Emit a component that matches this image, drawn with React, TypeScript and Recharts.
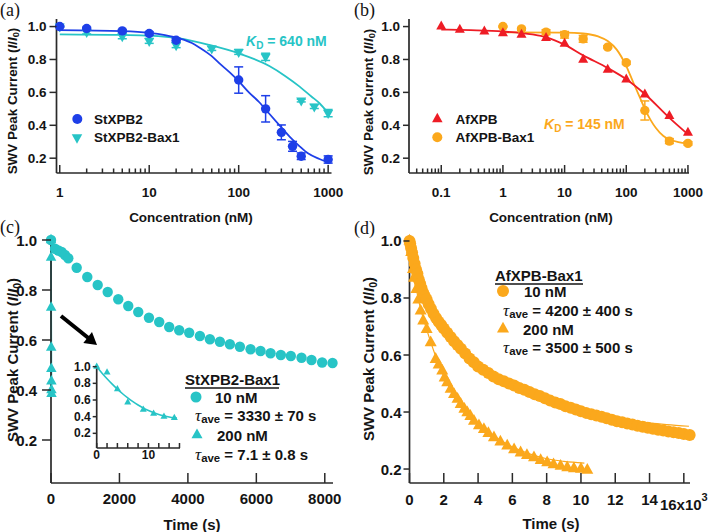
import React from 'react';
import { ComposedChart, Scatter, Line, XAxis, YAxis, ErrorBar } from 'recharts';

const SANS = '"Liberation Sans", Arial, Helvetica, sans-serif';
const SERIF = '"Liberation Serif", "Times New Roman", serif';
const BLUE = '#1e3fe8';
const CYAN = '#27c4c6';
const RED = '#ee1c25';
const ORANGE = '#fba81c';
const INK = '#141414';
const AX = '#2a2a2a';

// ---------------- (a) ----------------
const concA_St = [1, 2, 5, 10, 20, 100, 200, 300, 400, 500, 1000];
const valA_St = [1.0, 0.988, 0.974, 0.958, 0.917, 0.675, 0.5, 0.357, 0.272, 0.212, 0.192];
const errA_St = [0.004, 0.008, 0.008, 0.01, 0.012, 0.08, 0.08, 0.045, 0.03, 0.02, 0.022];
const concA_Bax = [1, 2, 5, 10, 20, 50, 100, 200, 500, 700, 1000];
const valA_Bax = [1.0, 0.967, 0.941, 0.913, 0.887, 0.867, 0.846, 0.816, 0.55, 0.514, 0.474];
const errA_Bax = [0.004, 0.012, 0.015, 0.015, 0.015, 0.012, 0.015, 0.022, 0.008, 0.012, 0.022];
const fitConcA_St = [1, 5, 10, 15, 22, 30, 37, 50, 61, 80, 100, 130, 170, 220, 286, 380, 480, 600, 800, 1000];
const fitValA_St = [0.978, 0.972, 0.962, 0.948, 0.927, 0.9, 0.87, 0.82, 0.776, 0.72, 0.668, 0.6, 0.54, 0.47, 0.4, 0.325, 0.272, 0.228, 0.195, 0.175];
const fitConcA_Bax = [1, 5, 10, 22, 47, 100, 220, 330, 480, 650, 800, 1000];
const fitValA_Bax = [0.953, 0.949, 0.945, 0.928, 0.888, 0.837, 0.76, 0.7, 0.635, 0.575, 0.534, 0.474];

// ---------------- (b) ----------------
const concB_Af = [0.1, 0.2, 0.5, 1, 2, 5, 10, 20, 50, 100, 200, 500, 1000];
const valB_Af = [1.0, 0.98, 0.97, 0.96, 0.95, 0.93, 0.895, 0.798, 0.738, 0.678, 0.587, 0.456, 0.355];
const concB_Bax = [1, 2, 5, 10, 20, 50, 100, 200, 500, 1000];
const valB_Bax = [1.0, 0.986, 0.966, 0.95, 0.925, 0.875, 0.78, 0.49, 0.304, 0.29];
const errB_Bax = [0.004, 0.008, 0.015, 0.02, 0.02, 0.008, 0.01, 0.058, 0.015, 0.01];
const fitConcB_Af = [0.1, 0.3, 1, 3, 5, 10, 20, 50, 100, 200, 500, 1000];
const fitValB_Af = [0.982, 0.978, 0.97, 0.952, 0.935, 0.89, 0.825, 0.748, 0.68, 0.59, 0.445, 0.345];
const fitConcB_Bax = [1, 10, 20, 35, 50, 70, 100, 130, 170, 200, 250, 300, 400, 500, 700, 1000];
const fitValB_Bax = [0.965, 0.963, 0.958, 0.94, 0.912, 0.86, 0.76, 0.66, 0.56, 0.5, 0.43, 0.385, 0.335, 0.315, 0.298, 0.29];

// ---------------- (c) ----------------
const timeC_10 = [0, 117, 213, 312, 409, 505, 750, 1060, 1364, 1656, 1965, 2257, 2549, 2862, 3162, 3454, 3746, 4038, 4351, 4643, 4935, 5227, 5519, 5831, 6123, 6415, 6716, 7008, 7320, 7612, 7922, 8226];
const valC_10 = [1.0, 0.965, 0.958, 0.952, 0.94, 0.927, 0.889, 0.852, 0.82, 0.792, 0.763, 0.736, 0.712, 0.689, 0.672, 0.652, 0.639, 0.629, 0.616, 0.603, 0.593, 0.583, 0.573, 0.563, 0.556, 0.547, 0.54, 0.536, 0.529, 0.52, 0.51, 0.508];
const timeC_200 = [0, 2, 4, 6, 9, 11, 13, 15];
const valC_200 = [1.0, 0.93, 0.73, 0.57, 0.485, 0.435, 0.4, 0.385];
const fitTimeC_200 = [0, 1, 2, 3, 4, 5, 6, 7, 8, 9, 10, 11, 12, 13, 14, 15, 15.5];
const fitValC_200 = [1.0, 0.925, 0.855, 0.79, 0.73, 0.675, 0.625, 0.58, 0.54, 0.505, 0.475, 0.448, 0.427, 0.41, 0.396, 0.386, 0.382];

// ---------------- (d) ----------------
const timeD_10 = [0, 40, 90, 150, 220, 300, 380, 460, 540, 620, 700, 800, 900, 1000, 1120, 1250, 1400, 1550, 1700, 1850, 2000, 2200, 2400, 2600, 2800, 3000, 3250, 3500, 3750, 4000, 4300, 4600, 4900, 5200, 5500, 5800, 6100, 6400, 6700, 7000, 7300, 7600, 7900, 8200, 8500, 8800, 9100, 9400, 9700, 10000, 10300, 10600, 10900, 11200, 11500, 11800, 12100, 12400, 12700, 13000, 13300, 13600, 13900, 14200, 14500, 14800, 15100, 15400, 15700, 16000, 16340];
const valD_10 = [1.0, 0.99, 0.975, 0.96, 0.94, 0.92, 0.9, 0.885, 0.865, 0.85, 0.835, 0.818, 0.805, 0.795, 0.778, 0.762, 0.745, 0.73, 0.717, 0.705, 0.693, 0.678, 0.663, 0.648, 0.635, 0.622, 0.605, 0.588, 0.575, 0.56, 0.548, 0.537, 0.525, 0.515, 0.508, 0.5, 0.493, 0.484, 0.478, 0.47, 0.462, 0.456, 0.448, 0.44, 0.433, 0.428, 0.42, 0.415, 0.409, 0.403, 0.397, 0.392, 0.388, 0.383, 0.378, 0.373, 0.368, 0.364, 0.36, 0.356, 0.352, 0.348, 0.345, 0.341, 0.338, 0.335, 0.332, 0.329, 0.326, 0.323, 0.319];
const timeD_200 = [0, 100, 200, 262, 400, 515, 650, 800, 1000, 1235, 1525, 1700, 1910, 2050, 2200, 2400, 2595, 2800, 2985, 3200, 3370, 3550, 3760, 4050, 4340, 4600, 4925, 5300, 5700, 6100, 6480, 6850, 7260, 7650, 8030, 8400, 8810, 9200, 9590, 10000, 10370];
const valD_200 = [1.0, 0.96, 0.9, 0.87, 0.83, 0.793, 0.755, 0.72, 0.69, 0.643, 0.585, 0.565, 0.544, 0.52, 0.503, 0.48, 0.462, 0.445, 0.427, 0.41, 0.398, 0.385, 0.368, 0.352, 0.339, 0.325, 0.31, 0.295, 0.281, 0.268, 0.257, 0.248, 0.24, 0.23, 0.222, 0.215, 0.21, 0.205, 0.201, 0.2, 0.196];
const fitTimeD_10 = [0, 300, 600, 1000, 1500, 2000, 3000, 4000, 5000, 6000, 7000, 8000, 9000, 10000, 11000, 12000, 13000, 14000, 15000, 16300];
const fitValD_10 = [1.0, 0.915, 0.85, 0.79, 0.735, 0.69, 0.615, 0.562, 0.524, 0.496, 0.474, 0.455, 0.437, 0.405, 0.392, 0.38, 0.37, 0.362, 0.356, 0.35];
const fitTimeD_200 = [0, 250, 500, 750, 1000, 1500, 2000, 2500, 3000, 3500, 4000, 5000, 6000, 7000, 8000, 9000, 10200];
const fitValD_200 = [1.0, 0.89, 0.8, 0.74, 0.69, 0.6, 0.525, 0.468, 0.424, 0.39, 0.36, 0.312, 0.278, 0.253, 0.236, 0.227, 0.221];

// ---------------- ticks ----------------
const yTicks = [0.2, 0.4, 0.6, 0.8, 1.0];
const logTicksA = [1, 2, 3, 4, 5, 6, 7, 8, 9, 10, 20, 30, 40, 50, 60, 70, 80, 90, 100, 200, 300, 400, 500, 600, 700, 800, 900, 1000];
const logMajorsA = [1, 10, 100, 1000];
const logTicksB = [0.04, 0.05, 0.06, 0.07, 0.08, 0.09, 0.1, 0.2, 0.3, 0.4, 0.5, 0.6, 0.7, 0.8, 0.9, 1, 2, 3, 4, 5, 6, 7, 8, 9, 10, 20, 30, 40, 50, 60, 70, 80, 90, 100, 200, 300, 400, 500, 600, 700, 800, 900, 1000];
const logMajorsB = [0.1, 1, 10, 100, 1000];
const timeTicksC = [0, 2000, 4000, 6000, 8000];
const timeTicksD = [0, 2000, 4000, 6000, 8000, 10000, 12000, 14000, 16000];
const insetTicksX = [0, 2, 4, 6, 8, 10, 12, 14, 16];
const insetMajorsX = [0, 10];

const zip = (xs: number[], ys: number[], es?: number[]) => xs.map((x, i) => ({ x, y: ys[i], e: es ? es[i] : 0 }));

const dA_St = zip(concA_St, valA_St, errA_St);
const dA_Bax = zip(concA_Bax, valA_Bax, errA_Bax);
const fA_St = zip(fitConcA_St, fitValA_St);
const fA_Bax = zip(fitConcA_Bax, fitValA_Bax);
const dB_Af = zip(concB_Af, valB_Af);
const dB_Bax = zip(concB_Bax, valB_Bax, errB_Bax);
const fB_Af = zip(fitConcB_Af, fitValB_Af);
const fB_Bax = zip(fitConcB_Bax, fitValB_Bax);
const dC_10 = zip(timeC_10, valC_10);
const dC_200 = zip(timeC_200, valC_200);
const fC_200 = zip(fitTimeC_200, fitValC_200);
const dD_10 = zip(timeD_10, valD_10);
const dD_200 = zip(timeD_200, valD_200);
const fD_10 = zip(fitTimeD_10, fitValD_10);
const fD_200 = zip(fitTimeD_200, fitValD_200);

type Side = 'left' | 'right' | 'top' | 'bottom';
interface TickCfg {
  side: Side;
  len: number;
  minorLen?: number;
  majors?: number[];
  fmt?: (v: number) => React.ReactNode;
  size?: number;
  gap?: number;
}
const isIn = (v: number, arr: number[]) => arr.some((m) => Math.abs(m - v) <= 1e-9 * Math.max(1, Math.abs(m)));

const mkTick = (c: TickCfg) => (p: any) => {
  const x = Number(p.x);
  const y = Number(p.y);
  const v = Number(p.payload ? p.payload.value : 0);
  const major = !c.majors || isIn(v, c.majors);
  const L = major ? c.len : c.minorLen ?? c.len;
  let x1 = x, y1 = y, x2 = x, y2 = y;
  if (c.side === 'left') x1 = x - L;
  if (c.side === 'right') x1 = x - L;
  if (c.side === 'bottom') y1 = y - L;
  if (c.side === 'top') y2 = y + L;
  let text: React.ReactNode = null;
  if (major && c.fmt) {
    const lab = c.fmt(v);
    const common = { fontFamily: SANS, fontWeight: 700, fontSize: c.size ?? 13, fill: INK, dominantBaseline: 'central' as const };
    if (c.side === 'left') {
      text = (
        <text x={x - L - (c.gap ?? 3)} y={y} textAnchor="end" {...common}>
          {lab}
        </text>
      );
    } else if (c.side === 'bottom') {
      text = (
        <text x={x} y={y + (c.gap ?? 15)} textAnchor="middle" {...common}>
          {lab}
        </text>
      );
    }
  }
  return (
    <g>
      <line x1={x1} y1={y1} x2={x2} y2={y2} stroke={AX} strokeWidth={1.5} />
      {text}
    </g>
  );
};

const axisLine = { stroke: AX, strokeWidth: 1.7 };
const f1 = (v: number) => v.toFixed(1);
const fNum = (v: number) => String(v);
const fD = (v: number): React.ReactNode =>
  v === 16000 ? (
    <>
      <tspan dy={5}>16x10</tspan>
      <tspan dy={-7} fontSize={11}>3</tspan>
    </>
  ) : (
    String(v / 1000)
  );

// marker shapes
const circ = (r: number, fill: string) => (p: any) => <circle cx={p.cx} cy={p.cy} r={r} fill={fill} />;
const triUpPath = (cx: number, cy: number, s: number) => {
  const h = s * 0.9;
  return `M${cx},${cy - (h * 2) / 3} L${cx + s / 2},${cy + h / 3} L${cx - s / 2},${cy + h / 3} Z`;
};
const triDownPath = (cx: number, cy: number, s: number) => {
  const h = s * 0.9;
  return `M${cx},${cy + (h * 2) / 3} L${cx + s / 2},${cy - h / 3} L${cx - s / 2},${cy - h / 3} Z`;
};
const triUp = (s: number, fill: string) => (p: any) => <path d={triUpPath(p.cx, p.cy, s)} fill={fill} />;
const triDown = (s: number, fill: string) => (p: any) => <path d={triDownPath(p.cx, p.cy, s)} fill={fill} />;

// ---------------- panels ----------------
const DOM_A_X: [number, number] = [0.92, 1090];
const DOM_B_X: [number, number] = [0.03, 1040];
const DOM_AB_Y: [number, number] = [0.11, 1.046];
const DOM_C_X: [number, number] = [0, 8240];
const DOM_C_Y: [number, number] = [0.028, 1.016];
const DOM_D_X: [number, number] = [0, 16360];
const DOM_D_Y: [number, number] = [0.151, 1.021];
const DOM_I_X: [number, number] = [0, 16.1];
const DOM_I_Y: [number, number] = [0.024, 1.02];

const tickCommon = { interval: 0 as const, tickLine: false, tickSize: 0, tickMargin: 0, axisLine };

function PanelA() {
  return (
    <ComposedChart width={354} height={232} margin={{ top: 19, right: 22.5, bottom: 0, left: 0 }}>
      <XAxis xAxisId="b" orientation="bottom" type="number" dataKey="x" scale="log" domain={DOM_A_X} ticks={logTicksA} height={59}
        {...tickCommon} tick={mkTick({ side: 'bottom', len: 8, minorLen: 4.5, majors: logMajorsA, fmt: fNum, size: 13.5, gap: 19 })} />
      <XAxis xAxisId="t" orientation="top" type="number" dataKey="x" scale="log" domain={DOM_A_X} ticks={logTicksA} height={0} allowDataOverflow
        {...tickCommon} tick={mkTick({ side: 'top', len: 8, minorLen: 4.5, majors: logMajorsA })} />
      <YAxis yAxisId="l" orientation="left" type="number" domain={DOM_AB_Y} ticks={yTicks} width={56.5}
        {...tickCommon} tick={mkTick({ side: 'left', len: 7, fmt: f1, size: 13.5, gap: 3 })} />
      <YAxis yAxisId="r" orientation="right" type="number" domain={DOM_AB_Y} ticks={yTicks} width={0} allowDataOverflow
        {...tickCommon} tick={mkTick({ side: 'right', len: 7 })} />
      <Line xAxisId="b" yAxisId="l" data={fA_Bax} dataKey="y" type="monotone" stroke={CYAN} strokeWidth={1.8} dot={false} isAnimationActive={false} />
      <Line xAxisId="b" yAxisId="l" data={fA_St} dataKey="y" type="monotone" stroke={BLUE} strokeWidth={1.8} dot={false} isAnimationActive={false} />
      <Scatter xAxisId="b" yAxisId="l" data={dA_Bax} dataKey="y" fill={CYAN} shape={triDown(10, CYAN)} isAnimationActive={false}>
        <ErrorBar dataKey="e" direction="y" width={4.5} stroke={CYAN} strokeWidth={1.5} />
      </Scatter>
      <Scatter xAxisId="b" yAxisId="l" data={dA_St} dataKey="y" fill={BLUE} shape={circ(4.7, BLUE)} isAnimationActive={false}>
        <ErrorBar dataKey="e" direction="y" width={4.5} stroke={BLUE} strokeWidth={1.5} />
      </Scatter>
    </ComposedChart>
  );
}

function PanelB() {
  return (
    <ComposedChart width={355} height={232} margin={{ top: 19, right: 20, bottom: 0, left: 0 }}>
      <XAxis xAxisId="b" orientation="bottom" type="number" dataKey="x" scale="log" domain={DOM_B_X} ticks={logTicksB} height={59}
        {...tickCommon} tick={mkTick({ side: 'bottom', len: 8, minorLen: 4.5, majors: logMajorsB, fmt: fNum, size: 13.5, gap: 19 })} />
      <XAxis xAxisId="t" orientation="top" type="number" dataKey="x" scale="log" domain={DOM_B_X} ticks={logTicksB} height={0} allowDataOverflow
        {...tickCommon} tick={mkTick({ side: 'top', len: 8, minorLen: 4.5, majors: logMajorsB })} />
      <YAxis yAxisId="l" orientation="left" type="number" domain={DOM_AB_Y} ticks={yTicks} width={55}
        {...tickCommon} tick={mkTick({ side: 'left', len: 6, fmt: f1, size: 13.5, gap: 3 })} />
      <YAxis yAxisId="r" orientation="right" type="number" domain={DOM_AB_Y} ticks={yTicks} width={0} allowDataOverflow
        {...tickCommon} tick={mkTick({ side: 'right', len: 7 })} />
      <Line xAxisId="b" yAxisId="l" data={fB_Bax} dataKey="y" type="monotone" stroke={ORANGE} strokeWidth={1.8} dot={false} isAnimationActive={false} />
      <Line xAxisId="b" yAxisId="l" data={fB_Af} dataKey="y" type="monotone" stroke={RED} strokeWidth={1.8} dot={false} isAnimationActive={false} />
      <Scatter xAxisId="b" yAxisId="l" data={dB_Bax} dataKey="y" fill={ORANGE} shape={circ(4.7, ORANGE)} isAnimationActive={false}>
        <ErrorBar dataKey="e" direction="y" width={4.5} stroke={ORANGE} strokeWidth={1.5} />
      </Scatter>
      <Scatter xAxisId="b" yAxisId="l" data={dB_Af} dataKey="y" fill={RED} shape={triUp(10, RED)} isAnimationActive={false} />
    </ComposedChart>
  );
}

function PanelC() {
  return (
    <ComposedChart width={354} height={300} margin={{ top: 4, right: 21, bottom: 0, left: 0 }}>
      <XAxis xAxisId="b" orientation="bottom" type="number" dataKey="x" domain={DOM_C_X} ticks={timeTicksC} height={49}
        {...tickCommon} tick={mkTick({ side: 'bottom', len: 10, fmt: fNum, size: 15, gap: 15.5 })} />
      <XAxis xAxisId="t" orientation="top" type="number" dataKey="x" domain={DOM_C_X} ticks={timeTicksC} height={0} allowDataOverflow
        {...tickCommon} tick={mkTick({ side: 'top', len: 10 })} />
      <YAxis yAxisId="l" orientation="left" type="number" domain={DOM_C_Y} ticks={yTicks} width={51}
        {...tickCommon} tick={mkTick({ side: 'left', len: 9, fmt: f1, size: 15, gap: 5 })} />
      <YAxis yAxisId="r" orientation="right" type="number" domain={DOM_C_Y} ticks={yTicks} width={0} allowDataOverflow
        {...tickCommon} tick={mkTick({ side: 'right', len: 10 })} />
      <Line xAxisId="b" yAxisId="l" data={fC_200} dataKey="y" type="linear" stroke={CYAN} strokeWidth={1.8} dot={false} isAnimationActive={false} />
      <Scatter xAxisId="b" yAxisId="l" data={dC_200} dataKey="y" fill={CYAN} shape={triUp(10.5, CYAN)} isAnimationActive={false} />
      <Scatter xAxisId="b" yAxisId="l" data={dC_10} dataKey="y" fill={CYAN} shape={circ(5.2, CYAN)} isAnimationActive={false} />
    </ComposedChart>
  );
}

function Inset() {
  return (
    <ComposedChart width={130} height={110} margin={{ top: 10, right: 10, bottom: 0, left: 0 }}>
      <XAxis xAxisId="b" orientation="bottom" type="number" dataKey="x" domain={DOM_I_X} ticks={insetTicksX} height={17}
        {...tickCommon} tick={mkTick({ side: 'bottom', len: 5, minorLen: 5, majors: insetMajorsX, fmt: fNum, size: 12, gap: 6.5 })} />
      <XAxis xAxisId="t" orientation="top" type="number" dataKey="x" domain={DOM_I_X} ticks={insetTicksX} height={0} allowDataOverflow
        {...tickCommon} tick={mkTick({ side: 'top', len: 5 })} />
      <YAxis yAxisId="l" orientation="left" type="number" domain={DOM_I_Y} ticks={yTicks} width={36.7}
        {...tickCommon} tick={mkTick({ side: 'left', len: 4, fmt: f1, size: 12, gap: 2 })} />
      <YAxis yAxisId="r" orientation="right" type="number" domain={DOM_I_Y} ticks={yTicks} width={0} allowDataOverflow
        {...tickCommon} tick={mkTick({ side: 'right', len: 5 })} />
      <Line xAxisId="b" yAxisId="l" data={fC_200} dataKey="y" type="monotone" stroke={CYAN} strokeWidth={1.6} dot={false} isAnimationActive={false} />
      <Scatter xAxisId="b" yAxisId="l" data={dC_200} dataKey="y" fill={CYAN} shape={triUp(7, CYAN)} isAnimationActive={false} />
    </ComposedChart>
  );
}

function PanelD() {
  return (
    <ComposedChart width={355} height={300} margin={{ top: 3, right: 19, bottom: 0, left: 0 }}>
      <XAxis xAxisId="b" orientation="bottom" type="number" dataKey="x" domain={DOM_D_X} ticks={timeTicksD} height={49}
        {...tickCommon} tick={mkTick({ side: 'bottom', len: 10, fmt: fD, size: 15, gap: 16 })} />
      <XAxis xAxisId="t" orientation="top" type="number" dataKey="x" domain={DOM_D_X} ticks={timeTicksD} height={0} allowDataOverflow
        {...tickCommon} tick={mkTick({ side: 'top', len: 10 })} />
      <YAxis yAxisId="l" orientation="left" type="number" domain={DOM_D_Y} ticks={yTicks} width={55.5}
        {...tickCommon} tick={mkTick({ side: 'left', len: 6, fmt: f1, size: 15, gap: 2 })} />
      <YAxis yAxisId="r" orientation="right" type="number" domain={DOM_D_Y} ticks={yTicks} width={0} allowDataOverflow
        {...tickCommon} tick={mkTick({ side: 'right', len: 10 })} />
      <Scatter xAxisId="b" yAxisId="l" data={dD_200} dataKey="y" fill={ORANGE} shape={triUp(12, ORANGE)} isAnimationActive={false} />
      <Scatter xAxisId="b" yAxisId="l" data={dD_10} dataKey="y" fill={ORANGE} shape={circ(6, ORANGE)} isAnimationActive={false} />
      <Line xAxisId="b" yAxisId="l" data={fD_10} dataKey="y" type="monotone" stroke={ORANGE} strokeWidth={1.2} dot={false} isAnimationActive={false} />
      <Line xAxisId="b" yAxisId="l" data={fD_200} dataKey="y" type="monotone" stroke={ORANGE} strokeWidth={1.2} dot={false} isAnimationActive={false} />
    </ComposedChart>
  );
}

// ---------------- annotations ----------------
const bold = { fontFamily: SANS, fontWeight: 700 as const, fill: INK };

function YTitle({ cx, cy, size }: { cx: number; cy: number; size: number }) {
  return (
    <text transform={`translate(${cx},${cy}) rotate(-90)`} textAnchor="middle" dominantBaseline="central" fontSize={size} {...bold}>
      SWV Peak Current (<tspan fontStyle="italic">I</tspan>/<tspan fontStyle="italic">I</tspan>
      <tspan dy={size * 0.3} fontSize={size * 0.7}>0</tspan>
      <tspan dy={-size * 0.3}>)</tspan>
    </text>
  );
}

function Kd({ x, y, color, value }: { x: number; y: number; color: string; value: string }) {
  return (
    <text x={x} y={y} dominantBaseline="central" fontSize={14} fontFamily={SANS} fontWeight={700} fill={color}>
      <tspan fontStyle="italic">K</tspan>
      <tspan dy={4} fontSize={10}>D</tspan>
      <tspan dy={-4}>{` = ${value}`}</tspan>
    </text>
  );
}

function Tau({ x, y, rest, size }: { x: number; y: number; rest: string; size: number }) {
  return (
    <text x={x} y={y} dominantBaseline="central" fontSize={size} {...bold}>
      <tspan fontFamily={SERIF} fontStyle="italic" fontWeight={400} fontSize={size * 1.15}>τ</tspan>
      <tspan dy={4} fontSize={size * 0.76}>ave</tspan>
      <tspan dy={-4}>{` = ${rest}`}</tspan>
    </text>
  );
}

function Overlay() {
  return (
    <svg width={709} height={532} style={{ position: 'absolute', left: 0, top: 0, pointerEvents: 'none' }}>
      {/* panel letters */}
      <text x={0} y={16} fontFamily={SERIF} fontSize={18} fill={INK}>(a)</text>
      <text x={354} y={16} fontFamily={SERIF} fontSize={18} fill={INK}>(b)</text>
      <text x={0} y={233} fontFamily={SERIF} fontSize={18} fill={INK}>(c)</text>
      <text x={354} y={234} fontFamily={SERIF} fontSize={18} fill={INK}>(d)</text>

      {/* axis titles */}
      <YTitle cx={12} cy={101} size={13.4} />
      <YTitle cx={368} cy={102} size={13.4} />
      <YTitle cx={12} cy={360} size={15} />
      <YTitle cx={368} cy={359} size={15} />
      <text x={191} y={217} textAnchor="middle" dominantBaseline="central" fontSize={13.5} {...bold}>Concentration (nM)</text>
      <text x={551} y={217} textAnchor="middle" dominantBaseline="central" fontSize={13.5} {...bold}>Concentration (nM)</text>
      <text x={192} y={524} textAnchor="middle" dominantBaseline="central" fontSize={15} {...bold}>Time (s)</text>
      <text x={551} y={523} textAnchor="middle" dominantBaseline="central" fontSize={15} {...bold}>Time (s)</text>

      {/* (a) legend */}
      <circle cx={77.3} cy={119} r={5} fill={BLUE} />
      <text x={94} y={119} dominantBaseline="central" fontSize={13.5} {...bold}>StXPB2</text>
      <path d={triDownPath(77, 137.5, 10.5)} fill={CYAN} />
      <text x={94} y={137.5} dominantBaseline="central" fontSize={13.5} {...bold}>StXPB2-Bax1</text>
      <Kd x={246} y={41} color={CYAN} value="640 nM" />

      {/* (b) legend */}
      <path d={triUpPath(437.3, 119, 10.5)} fill={RED} />
      <text x={455.5} y={119} dominantBaseline="central" fontSize={13.5} {...bold}>AfXPB</text>
      <circle cx={437.3} cy={137.3} r={5} fill={ORANGE} />
      <text x={455.5} y={137.3} dominantBaseline="central" fontSize={13.5} {...bold}>AfXPB-Bax1</text>
      <Kd x={544} y={123.5} color={ORANGE} value="145 nM" />

      {/* (c) arrow */}
      <line x1={61} y1={316} x2={89} y2={338.5} stroke="#000" strokeWidth={4} />
      <polygon points="97,345 83.3,343 92,332" fill="#000" />

      {/* (c) legend */}
      <text x={185} y={379} dominantBaseline="central" fontSize={15} {...bold}>StXPB2-Bax1</text>
      <line x1={185} y1={388} x2={279} y2={388} stroke={INK} strokeWidth={1.4} />
      <circle cx={196} cy={397} r={5.5} fill={CYAN} />
      <text x={215} y={397} dominantBaseline="central" fontSize={15} {...bold}>10 nM</text>
      <Tau x={195} y={415} rest="3330 ± 70 s" size={15} />
      <path d={triUpPath(197, 435, 11)} fill={CYAN} />
      <text x={217} y={435} dominantBaseline="central" fontSize={15} {...bold}>200 nM</text>
      <Tau x={195} y={454} rest="7.1 ± 0.8 s" size={15} />

      {/* (d) legend */}
      <text x={495} y={275} dominantBaseline="central" fontSize={15} {...bold}>AfXPB-Bax1</text>
      <line x1={495} y1={284} x2={583} y2={284} stroke={INK} strokeWidth={1.4} />
      <circle cx={503} cy={291} r={6} fill={ORANGE} />
      <text x={524} y={291} dominantBaseline="central" fontSize={15} {...bold}>10 nM</text>
      <Tau x={503} y={309.5} rest="4200 ± 400 s" size={15} />
      <path d={triUpPath(503, 329, 12)} fill={ORANGE} />
      <text x={523} y={329} dominantBaseline="central" fontSize={15} {...bold}>200 nM</text>
      <Tau x={503} y={346.5} rest="3500 ± 500 s" size={15} />
    </svg>
  );
}

export default function App() {
  return (
    <div style={{ position: 'absolute', left: 0, top: 0, width: 709, height: 532, background: '#fff', overflow: 'hidden' }}>
      <div style={{ position: 'absolute', left: 0, top: 0 }}><PanelA /></div>
      <div style={{ position: 'absolute', left: 354, top: 0 }}><PanelB /></div>
      <div style={{ position: 'absolute', left: 0, top: 232 }}><PanelC /></div>
      <div style={{ position: 'absolute', left: 354, top: 232 }}><PanelD /></div>
      <div style={{ position: 'absolute', left: 60, top: 355 }}><Inset /></div>
      <Overlay />
    </div>
  );
}
